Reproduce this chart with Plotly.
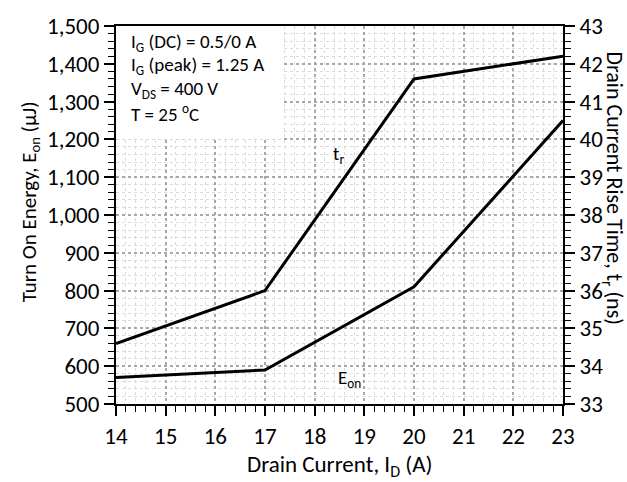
import plotly.graph_objects as go

drain_current = [14, 17, 20, 23]
e_on = [570, 590, 810, 1250]
t_r = [34.6, 36.0, 41.6, 42.2]

x_ticks = list(range(14, 24))
y_left_ticks = list(range(500, 1501, 100))
y_right_ticks = list(range(33, 44))

cond_lines = [
    "I<sub>G</sub> (DC) = 0.5/0 A",
    "I<sub>G</sub> (peak) = 1.25 A",
    "V<sub>DS</sub> = 400 V",
    "T = 25 <sup>o</sup>C",
]

FONT = "Carlito, Lato, sans-serif"
major_grid = "#a8a8a8"
minor_grid = "#dadada"

fig = go.Figure()
fig.add_trace(go.Scatter(x=drain_current, y=e_on, mode="lines",
                         line=dict(color="black", width=3), yaxis="y", showlegend=False))
fig.add_trace(go.Scatter(x=drain_current, y=t_r, mode="lines",
                         line=dict(color="black", width=3), yaxis="y2", showlegend=False))

fig.update_layout(
    width=627, height=482,
    margin=dict(l=116, r=64, t=18, b=78),
    paper_bgcolor="white", plot_bgcolor="white",
    font=dict(family=FONT, size=20, color="black"),
    xaxis=dict(range=[14, 23], tickvals=x_ticks, showline=True, linecolor="black", linewidth=2,
               mirror=True, ticks="outside", ticklen=10, tickwidth=1.5, tickcolor="black",
               showgrid=True, gridcolor=major_grid, griddash="dot", gridwidth=1.5,
               zeroline=False,
               minor=dict(dtick=0.2, ticks="outside", ticklen=6, tickcolor="black", tickwidth=1,
                          showgrid=True, gridcolor=minor_grid, griddash="dot", gridwidth=1),
               tickfont=dict(size=23)),
    yaxis=dict(range=[500, 1500], tickvals=y_left_ticks, tickformat=",d",
               showline=True, linecolor="black", linewidth=2,
               ticks="outside", ticklen=10, tickwidth=1.5, tickcolor="black",
               showgrid=True, gridcolor=major_grid, griddash="dot", gridwidth=1.5,
               zeroline=False,
               minor=dict(dtick=20, ticks="outside", ticklen=6, tickcolor="black", tickwidth=1,
                          showgrid=True, gridcolor=minor_grid, griddash="dot", gridwidth=1),
               tickfont=dict(size=23)),
    yaxis2=dict(range=[33, 43], tickvals=y_right_ticks, overlaying="y", side="right",
                showline=True, linecolor="black", linewidth=2,
                ticks="outside", ticklen=10, tickwidth=1.5, tickcolor="black",
                showgrid=False, zeroline=False,
                minor=dict(dtick=0.2, ticks="outside", ticklen=6, tickcolor="black", tickwidth=1,
                           showgrid=False),
                tickfont=dict(size=23)),
)

# white box behind the conditions text
fig.add_shape(type="rect", xref="x", yref="y", x0=14, x1=17.35, y0=1200, y1=1500,
              fillcolor="white", line=dict(width=0), layer="between")

for i, t in enumerate(cond_lines):
    fig.add_annotation(xref="paper", yref="paper", x=0.03, y=1 - (17 + 24 * i) / 386,
                       text=t, showarrow=False, xanchor="left", yanchor="middle",
                       font=dict(size=19))

fig.add_annotation(x=18.47, y=1160, xref="x", yref="y", text="t<sub>r</sub>",
                   showarrow=False, font=dict(size=19))
fig.add_annotation(x=18.71, y=567, xref="x", yref="y", text="E<sub>on</sub>",
                   showarrow=False, font=dict(size=19))

fig.add_annotation(xref="paper", yref="paper", x=0.5, y=-63 / 386, yanchor="middle",
                   text="Drain Current, I<sub>D</sub> (A)", showarrow=False, font=dict(size=23))
fig.add_annotation(xref="paper", yref="paper", x=-86 / 447, y=1 - 180 / 386, xanchor="center",
                   yanchor="middle",
                   text="Turn On Energy, E<sub>on</sub> (μJ)", showarrow=False, textangle=-90,
                   font=dict(size=21))
fig.add_annotation(xref="paper", yref="paper", x=1 + 50 / 447, y=1 - 165 / 386, xanchor="center",
                   yanchor="middle",
                   text="Drain Current Rise Time, t<sub>r</sub> (ns)", showarrow=False, textangle=90,
                   font=dict(size=22))

fig.write_html("out.html")
